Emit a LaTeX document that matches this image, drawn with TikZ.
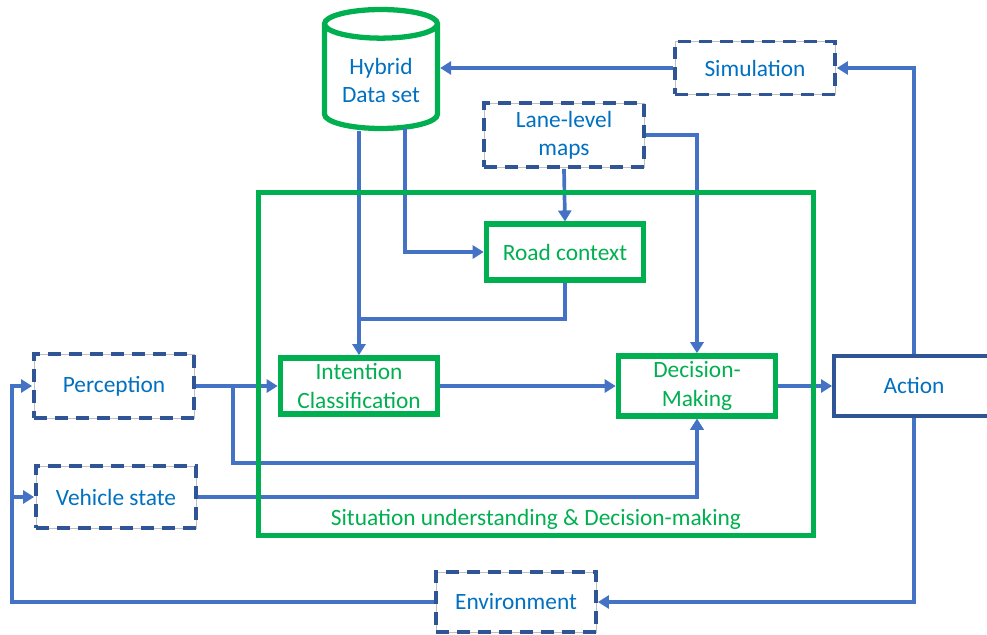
\documentclass[tikz,border=0pt]{standalone}
\usepackage{fontspec}
\setmainfont{Carlito}
\usetikzlibrary{shapes.geometric,arrows.meta,positioning,calc}

\definecolor{lineBlue}{HTML}{4472C4}
\definecolor{textBlue}{HTML}{0070C0}
\definecolor{boxGreen}{HTML}{00B050}
\definecolor{darkBlue}{HTML}{2F5597}

\begin{document}
\begin{tikzpicture}[x=0.02cm,y=-0.02cm,
  every node/.style={font=\fontsize{13.3}{16}\selectfont,align=center},
  >={Triangle[length=0.22cm,width=0.26cm]},
  dashbox/.style={draw=darkBlue,line width=2.2pt,dash pattern=on 0.26cm off 0.16cm,
    text=textBlue,minimum width=3.2cm,minimum height=1.24cm,
    preaction={draw=black!25,line width=0.4pt,solid}},
  greenbox/.style={draw=boxGreen,line width=3.2pt,text=boxGreen,fill=white,
    minimum width=3.14cm,minimum height=1.11cm},
  conn/.style={draw=lineBlue,line width=2.1pt}]

\useasboundingbox (0,0) rectangle (987,635);

% the data set on top
\node[cylinder,shape border rotate=90,aspect=0.32,draw=boxGreen,line width=3pt,
  text=textBlue,minimum width=2.26cm,minimum height=2.38cm,anchor=shape center] (data) at (381,69) {Hybrid\\Data set};

% dashed outside blocks
\node[dashbox,minimum height=1.06cm] (sim) at (755,68) {Simulation};
\node[dashbox,minimum height=1.28cm] (lane) at (564,135) {Lane-level\\maps};
\node[dashbox,minimum height=1.28cm] (perc) at (114,386) {Perception};
\node[dashbox] (veh) at (116,497) {Vehicle state};
\node[dashbox,minimum height=1.2cm] (env) at (516,602) {Environment};

% inner blocks
\node[greenbox] (road) at (565,252) {Road context};
\node[greenbox] (intent) at (359,386) {Intention\\Classification};
\node[greenbox] (dec) at (697,386) {Decision-\\Making};
\node[draw=darkBlue,line width=2.2pt,text=textBlue,minimum width=3.2cm,minimum height=1.2cm] (act) at (914,386) {Action};

\coordinate (dsR) at (405,128);
\coordinate (jn) at (360,319);
\coordinate (br) at (233,386);
\coordinate (loopL) at (12,602);

% connectors
\draw[conn,->] (sim.west) -- (sim.west -| data.east);
\draw[conn,->] (act.north) |- (sim.east);
\draw[conn,->] (intent.north |- data.south) -- (intent.north);
\draw[conn,->] (dsR) |- (road.west);
\draw[conn,->] (lane.south) -- (road.north);
\draw[conn,->] (lane.east) -| (dec.north);
\draw[conn] (road.south) |- (jn);
\draw[conn,->] (perc.east) -- (intent.west);
\draw[conn,->] (br) |- (dec.south |- 0,463) -- (dec.south);
\draw[conn,->] (veh.east) -| (dec.south);
\draw[conn,->] (intent.east) -- (dec.west);
\draw[conn,->] (dec.east) -- (act.west);
\draw[conn,->] (act.south) |- (env.east);
\draw[conn,->] (env.west) -- (loopL) |- (perc.west);
\draw[conn,->] (loopL |- veh.west) -- (veh.west);

% the frame round the situation part
\node[draw=boxGreen,line width=3.2pt,minimum width=11.1cm,minimum height=6.86cm] (sit) at (536,364) {};
\node[text=boxGreen,anchor=base] (sitLbl) at (536,525) {Situation understanding \& Decision-making};

\end{tikzpicture}
\end{document}
